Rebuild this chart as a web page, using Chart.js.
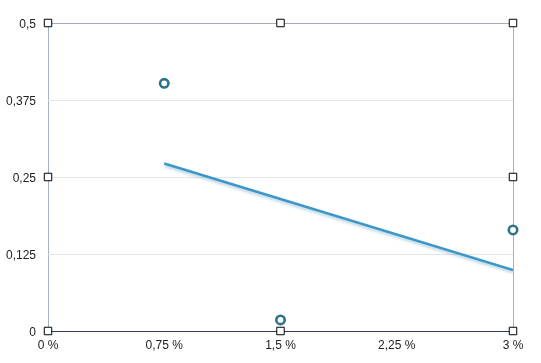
<!DOCTYPE html>
<html>
<head>
<meta charset="utf-8">
<script src="https://cdn.jsdelivr.net/npm/chart.js@4"></script>
<style>
  html, body { margin: 0; padding: 0; background: #fff; }
  #wrap { width: 541px; height: 363px; }
</style>
</head>
<body>
<div id="wrap"><canvas id="chart" width="541" height="363"></canvas></div>
<script>
// data (x in %)
const pointX = [0.75, 1.5, 3];
const pointY = [0.402, 0.018, 0.164];
const trendX = [0.75, 3];
const trendY = [0.272, 0.099];
const handleX = [0, 1.5, 3, 0, 3, 0, 1.5, 3];
const handleY = [0.5, 0.5, 0.5, 0.25, 0.25, 0, 0, 0];

const toXY = (xs, ys) => xs.map((x, i) => ({ x: x, y: ys[i] }));
const comma = v => String(v).replace('.', ',');

// soft drop shadow under the trend line
const trendShadow = {
    id: 'trendShadow',
    beforeDatasetDraw(chart, args) {
        if (args.index !== 0) return;
        const c = chart.ctx;
        c.save();
        c.shadowColor = 'rgba(90, 150, 190, 0.45)';
        c.shadowBlur = 3;
        c.shadowOffsetY = 2;
    },
    afterDatasetDraw(chart, args) {
        if (args.index !== 0) return;
        chart.ctx.restore();
    }
};

const ctx = document.getElementById('chart').getContext('2d');
const chart = new Chart(ctx, {
    type: 'scatter',
    data: {
        datasets: [
            {
                type: 'line',
                data: toXY(trendX, trendY),
                borderColor: '#3c96c8',
                borderWidth: 2.5,
                pointRadius: 0,
                fill: false
            },
            {
                data: toXY(pointX, pointY),
                pointStyle: 'circle',
                pointRadius: 4.2,
                pointBorderWidth: 2.6,
                pointBackgroundColor: '#ffffff',
                pointBorderColor: '#2e7489',
                clip: false
            },
            {
                data: toXY(handleX, handleY),
                pointStyle: 'rect',
                pointRadius: 5.3,
                pointBorderWidth: 1,
                pointBackgroundColor: '#ffffff',
                pointBorderColor: '#000000',
                clip: false
            }
        ]
    },
    plugins: [trendShadow],
    options: {
        responsive: false,
        animation: false,
        layout: { padding: { top: 23, right: 28, left: 0, bottom: 0 } },
        plugins: {
            legend: { display: false },
            tooltip: { enabled: false }
        },
        scales: {
            x: {
                type: 'linear',
                min: 0,
                max: 3,
                border: { display: false },
                afterFit: scale => { scale.height = 32; },
                grid: {
                    drawTicks: false,
                    color: c => (c.index === 0 || c.index === 4) ? '#9fb2c6' : 'rgba(0,0,0,0)',
                    lineWidth: 1
                },
                ticks: {
                    stepSize: 0.75,
                    padding: 7,
                    color: '#222',
                    font: { family: 'Liberation Sans, Arial, sans-serif', size: 12 },
                    callback: v => comma(v) + ' %'
                }
            },
            y: {
                min: 0,
                max: 0.5,
                border: { display: false },
                afterFit: scale => { scale.width = 48; },
                grid: {
                    drawTicks: false,
                    color: c => c.index === 0 ? '#2b3a66' : (c.index === 4 ? '#a9a9bd' : '#e4e4e4'),
                    lineWidth: 1
                },
                ticks: {
                    stepSize: 0.125,
                    padding: 12,
                    labelOffset: 2,
                    color: '#222',
                    font: { family: 'Liberation Sans, Arial, sans-serif', size: 12 },
                    callback: v => comma(v)
                }
            }
        }
    }
});
</script>
</body>
</html>
